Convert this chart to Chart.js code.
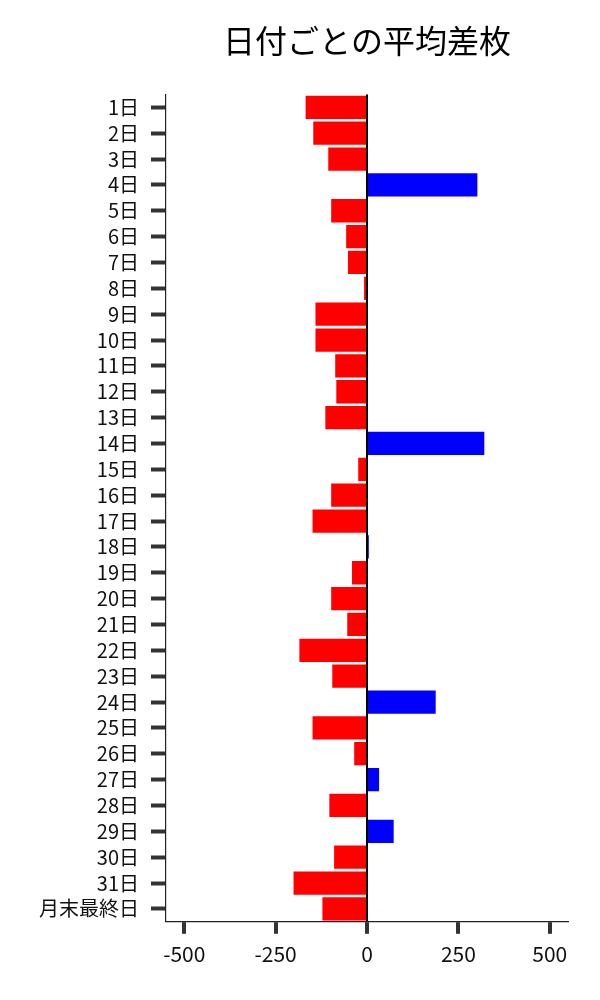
<!DOCTYPE html>
<html>
<head>
<meta charset="utf-8">
<script src="https://cdn.jsdelivr.net/npm/chart.js@4"></script>
<style>
  html, body { margin: 0; padding: 0; background: #fff; }
  #wrap { width: 600px; height: 1000px; }
</style>
</head>
<body>
<div id="wrap"><canvas id="grafico"></canvas></div>
<script>
const dias = ['1日','2日','3日','4日','5日','6日','7日','8日','9日','10日',
  '11日','12日','13日','14日','15日','16日','17日','18日','19日','20日',
  '21日','22日','23日','24日','25日','26日','27日','28日','29日','30日',
  '31日','月末最終日'];
const mediaSaldo = [-168,-147,-106,302,-98,-57,-52,-8,-141,-141,
  -87,-84,-114,321,-24,-98,-149,5,-41,-98,
  -54,-185,-95,188,-149,-35,33,-103,73,-90,
  -201,-122];
const ticksX = [-500,-250,0,250,500];

const fonte = "'Noto Sans CJK JP', 'Noto Sans', sans-serif";

const ctx = document.getElementById('grafico').getContext('2d');
const grafico = new Chart(ctx, {
  type: 'bar',
  data: {
    labels: dias,
    datasets: [{
      label: '平均差枚',
      data: mediaSaldo,
      // positivo azul, negativo vermelho
      backgroundColor: mediaSaldo.map(v => v >= 0 ? '#0000ff' : '#ff0000'),
      barPercentage: 0.9,
      categoryPercentage: 1.0
    }]
  },
  options: {
    indexAxis: 'y',
    responsive: true,
    maintainAspectRatio: false,
    animation: false,
    layout: { padding: { left: 27, right: 32, top: 0, bottom: 25 } },
    plugins: {
      legend: { display: false },
      tooltip: { enabled: false },
      title: {
        display: true,
        text: '日付ごとの平均差枚',
        fullSize: false,
        color: '#000',
        font: { family: fonte, size: 32, weight: 'normal' },
        padding: { top: 22, bottom: 34 }
      }
    },
    scales: {
      x: {
        min: -550,
        max: 550,
        afterBuildTicks: axis => { axis.ticks = ticksX.map(v => ({ value: v })); },
        grid: {
          drawOnChartArea: true,
          color: c => (c.tick && c.tick.value === 0) ? '#000' : 'rgba(0,0,0,0)',
          lineWidth: 2,
          drawTicks: true,
          tickLength: 12,
          tickWidth: 4,
          tickColor: '#333'
        },
        border: { display: true, color: '#222', width: 1.2 },
        ticks: {
          color: '#111',
          padding: 8,
          maxRotation: 0,
          font: { family: fonte, size: 21 }
        }
      },
      y: {
        offset: true,
        grid: {
          offset: false,
          drawOnChartArea: false,
          drawTicks: true,
          tickLength: 15,
          tickWidth: 4,
          tickColor: '#333'
        },
        border: { display: true, color: '#222', width: 1.2 },
        ticks: {
          color: '#111',
          padding: 12,
          autoSkip: false,
          font: { family: fonte, size: 20 }
        }
      }
    }
  }
});
</script>
</body>
</html>
